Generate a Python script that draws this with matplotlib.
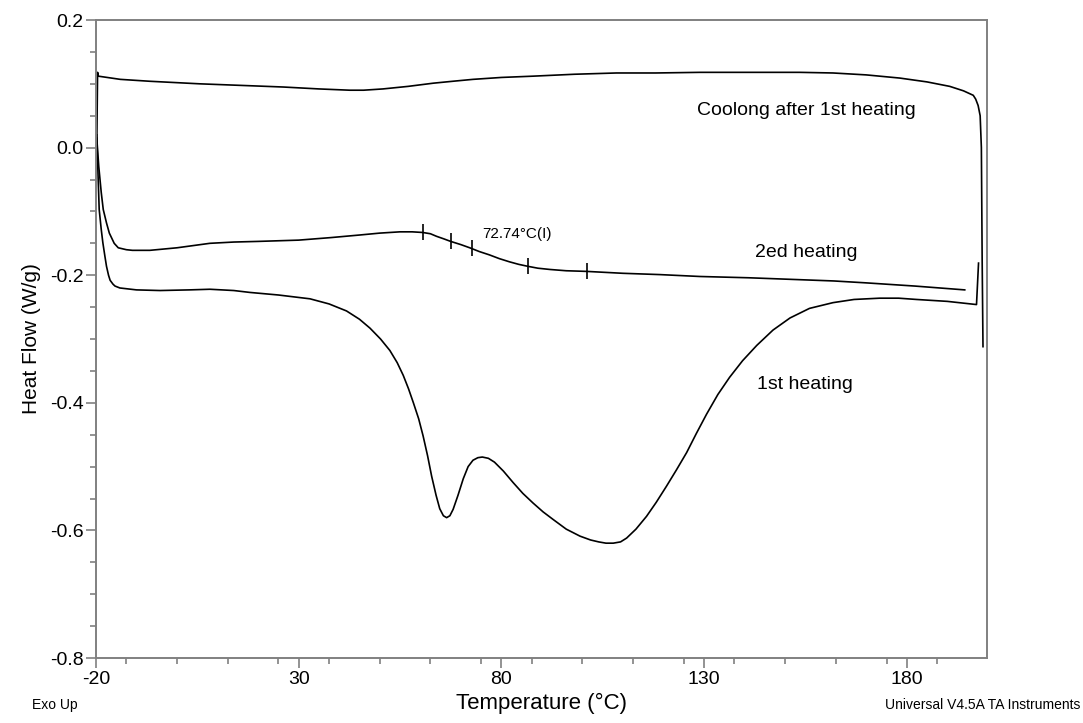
import matplotlib.pyplot as plt
from matplotlib.ticker import MultipleLocator

plt.rcParams['font.family'] = ['Liberation Sans', 'DejaVu Sans']
plt.rcParams['axes.unicode_minus'] = False

# 1st heating
heat1_T = [-19.8, -19.5, -19.2, -18.7, -18.3, -17.8, -17.4, -16.9, -16.5, -15.8, -15.3, -14.1,
           -10, -4.2, 3, 8.1, 14, 18, 25, 32.8, 37.5, 41.8, 45, 47.6, 50.2, 52.5, 54.3, 55.8,
           57.1, 58.3, 59.6, 60.7, 61.8, 62.8, 63.9, 64.8, 65.7, 66.5, 67.3, 68.1, 69.3,
           70.6, 71.8, 73, 74.2, 75.3, 76.8, 78.3, 80.5, 82.9, 85.3, 87.8, 90.3, 92.8, 96,
           99.4, 102, 104, 105.8, 107.6, 109.4, 110.9, 113.2, 115.8, 118.2, 120.7, 123.2,
           125.7, 128.1, 130.6, 133.4, 136.3, 139.5, 143, 147, 151.2, 156, 161.8, 167,
           173.3, 178, 182.4, 190, 197.2, 197.7]
heat1_H = [0.02, -0.04, -0.097, -0.128, -0.149, -0.17, -0.186, -0.2, -0.208, -0.214, -0.217,
           -0.22, -0.223, -0.224, -0.223, -0.222, -0.224, -0.227, -0.231, -0.237, -0.245,
           -0.256, -0.269, -0.283, -0.300, -0.318, -0.337, -0.357, -0.378, -0.400, -0.425,
           -0.452, -0.483, -0.515, -0.545, -0.566, -0.577, -0.580, -0.577, -0.567, -0.545,
           -0.519, -0.500, -0.490, -0.486, -0.485, -0.487, -0.493, -0.507, -0.525, -0.542,
           -0.557, -0.571, -0.583, -0.598, -0.609, -0.615, -0.618, -0.620, -0.620, -0.618,
           -0.612, -0.598, -0.578, -0.556, -0.531, -0.505, -0.478, -0.448, -0.418, -0.387,
           -0.360, -0.334, -0.310, -0.286, -0.267, -0.252, -0.243, -0.238, -0.236, -0.236,
           -0.238, -0.241, -0.246, -0.181]

# 2nd heating
heat2_T = [-19.8, -19.3, -18.7, -18.2, -17.4, -16.7, -15.5, -14.5, -12.5, -11, -6.7, 0, 8.1,
           14, 20, 30, 38, 45, 50, 55, 58, 60.6, 62.5, 64, 65.8, 67.5, 70, 72.2, 74.6, 77,
           79.5, 82, 84.3, 86.5, 89, 92, 96, 101, 110, 119, 129, 141, 153.6, 162, 170,
           182, 194.3]
heat2_H = [0.015, -0.03, -0.07, -0.097, -0.118, -0.134, -0.150, -0.157, -0.160, -0.161,
           -0.161, -0.157, -0.150, -0.148, -0.147, -0.145, -0.141, -0.137, -0.134, -0.132,
           -0.132, -0.133, -0.135, -0.139, -0.143, -0.147, -0.152, -0.157, -0.163, -0.168,
           -0.174, -0.179, -0.183, -0.186, -0.189, -0.191, -0.193, -0.194, -0.197, -0.199,
           -0.202, -0.204, -0.207, -0.209, -0.212, -0.217, -0.223]

# cooling after 1st heating (from hot end to cold end)
cool_T = [198.8, 198.6, 198.4, 198.1, 197.6, 197.0, 196.4, 194, 190.6, 185, 178.3, 170,
          161.8, 153.6, 140, 129, 118, 108.4, 98, 87.8, 80, 73.0, 68, 63.2, 57, 50.8, 46,
          42.6, 35, 26.2, 18, 5.6, -6.7, -14, -19.4, -19.6, -19.7, -19.8, -19.9]
cool_H = [-0.312, -0.18, 0.0, 0.05, 0.066, 0.076, 0.082, 0.089, 0.096, 0.103, 0.109, 0.114,
          0.117, 0.118, 0.118, 0.118, 0.117, 0.117, 0.115, 0.112, 0.110, 0.107, 0.104, 0.101,
          0.096, 0.092, 0.090, 0.090, 0.092, 0.095, 0.097, 0.100, 0.104, 0.107, 0.112,
          0.118, 0.06, 0.0, -0.02]

# analysis marks on 2nd heating
mark_T = [60.6, 67.5, 72.74, 86.5, 101]
mark_H = [-0.133, -0.147, -0.158, -0.186, -0.194]

fig = plt.figure(figsize=(10.83, 7.23), dpi=100)
ax = fig.add_axes([0.0886, 0.0899, 0.8228, 0.8824])

ax.plot(heat1_T, heat1_H, color='black', lw=1.2)
ax.plot(heat2_T, heat2_H, color='black', lw=1.2)
ax.plot(cool_T, cool_H, color='black', lw=1.2)
ax.plot(mark_T, mark_H, ls='none', marker='|', ms=11, mew=1.2, color='black')

ax.text(75.4, -0.135, '72.74°C(I)', fontsize=11, va='center', ha='left')
ax.text(128.2, 0.058, 'Coolong after 1st heating', fontsize=14, va='center', ha='left')
ax.text(142.5, -0.164, '2ed heating', fontsize=14, va='center', ha='left')
ax.text(143, -0.371, '1st heating', fontsize=14, va='center', ha='left')

ax.set_xlim(-20, 199.8)
ax.set_ylim(-0.8, 0.2)
ax.set_xticks([-20, 30, 80, 130, 180])
ax.set_yticks([-0.8, -0.6, -0.4, -0.2, 0.0, 0.2])
ax.set_yticklabels(['-0.8', '-0.6', '-0.4', '-0.2', '0.0', '0.2'])
ax.xaxis.set_minor_locator(MultipleLocator(12.5))
ax.yaxis.set_minor_locator(MultipleLocator(0.05))

ax.tick_params(which='major', direction='out', length=7, width=1.2, color='#808080',
               labelsize=14, pad=2)
ax.tick_params(which='minor', direction='out', length=4, width=1.2, color='#808080')
ax.tick_params(top=False, right=False, which='both')
for s in ax.spines.values():
    s.set_color('#808080')
    s.set_linewidth(1.4)

ax.set_xlabel('Temperature (°C)', fontsize=16, labelpad=4)
ax.set_ylabel('Heat Flow (W/g)', fontsize=15, labelpad=6)

fig.text(32 / 1083, 1 - 705 / 723, 'Exo Up', fontsize=10, va='center', ha='left')
fig.text(1080 / 1083, 1 - 705 / 723, 'Universal V4.5A TA Instruments', fontsize=10,
         va='center', ha='right')

fig.savefig('out.png', dpi=100)
